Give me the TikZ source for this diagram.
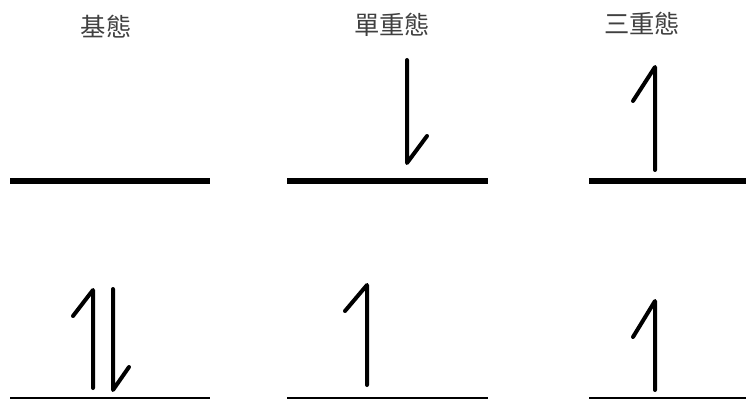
\documentclass[tikz,border=0pt]{standalone}
\usepackage{fontspec}
\newfontfamily\cjk{Noto Sans CJK TC}

\tikzset{every picture/.style={line width=0.75pt}}
\tikzset{
	level/.style={line width=4.5pt},
	spin/.style={line width=3pt, line cap=round, line join=round},
	label/.style={text=black!75, font=\cjk\fontsize{19}{19}\selectfont}
}

\begin{document}
\begin{tikzpicture}[x=0.75pt,y=0.75pt,yscale=-1,xscale=1]
	%set diagram left start at 0, and has height of 399
	\useasboundingbox (0,0) rectangle (746,399);

	%Straight Lines: upper levels
	\draw [level]  (10,181) -- (210,181) ;
	\draw [level]  (287,181) -- (488,181) ;
	\draw [level]  (589,181) -- (750,181) ;
	%Straight Lines: lower levels
	\draw [level]  (10,399.5) -- (210,399.5) ;
	\draw [level]  (287,399.5) -- (488,399.5) ;
	\draw [level]  (589,399.5) -- (750,399.5) ;

	%Spin down, singlet upper
	\draw [spin]  (407,60) -- (407,163) -- (427,136) ;
	%Spin up, triplet upper
	\draw [spin]  (633,101) -- (655,67) -- (655,170) ;

	%Spin pair, ground lower
	\draw [spin]  (73,316) -- (93,290) -- (93,388) ;
	\draw [spin]  (113,289) -- (113,390) -- (129,367) ;
	%Spin up, singlet lower
	\draw [spin]  (345,311) -- (367,285) -- (367,385) ;
	%Spin up, triplet lower
	\draw [spin]  (633,337) -- (655,301) -- (655,390) ;

	% Text Node
	\draw (106,27) node [label] (ground) {基態};
	% Text Node
	\draw (392,25) node [label] (singlet) {單重態};
	% Text Node
	\draw (642,24) node [label] (triplet) {三重態};

\end{tikzpicture}
\end{document}
